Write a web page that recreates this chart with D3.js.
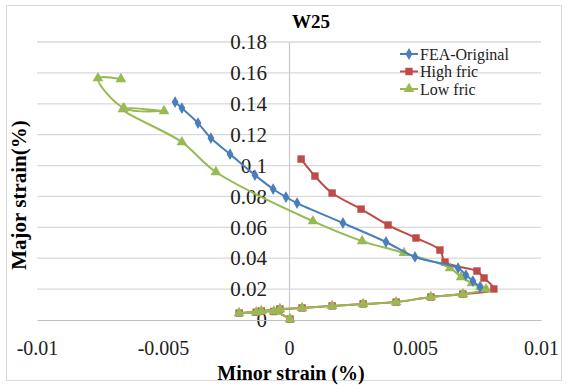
<!DOCTYPE html>
<html>
<head>
<meta charset="utf-8">
<script src="https://d3js.org/d3.v7.min.js"></script>
<style>
  body { margin: 0; background: #fff; }
  text { font-family: "Liberation Serif", "Times New Roman", serif; }
</style>
</head>
<body>
<script>
// W25 strain path
var seriesNames = ["FEA-Original", "High fric", "Low fric"];

var feaX = [0.00758, 0.0073, 0.00702, 0.00671, 0.0050, 0.00385, 0.00214, 0.00032, -0.00012, -0.00063, -0.00135, -0.00234, -0.0031, -0.00361, -0.00425, -0.00452];
var feaY = [0.0214, 0.0252, 0.0291, 0.0336, 0.0408, 0.0505, 0.0628, 0.0757, 0.0796, 0.0848, 0.0938, 0.1074, 0.1178, 0.1275, 0.1372, 0.1411];

var highX = [0.00004, -0.0006, -0.0013, -0.00198, -0.0011, -0.00036, 0.00052, 0.00171, 0.00294, 0.00425, 0.00563, 0.0069, 0.00813, 0.00774, 0.00746, 0.00619, 0.00599, 0.00504, 0.00393, 0.00286, 0.00171, 0.00103, 0.00048];
var highY = [0.0006, 0.0055, 0.005, 0.0045, 0.0058, 0.0071, 0.0078, 0.0091, 0.0104, 0.0116, 0.0149, 0.0168, 0.0201, 0.0272, 0.0317, 0.0375, 0.0453, 0.0531, 0.0615, 0.0718, 0.0822, 0.0932, 0.1042];

var lowX = [0.00004, -0.0006, -0.0013, -0.00198, -0.0011, -0.00036, 0.00052, 0.00171, 0.00294, 0.00425, 0.00563, 0.0069, 0.00782, 0.0076, 0.00726, 0.00683, 0.00639, 0.00456, 0.0029, 0.00095, -0.0029, -0.00425, -0.00659, -0.00496, -0.00655, -0.00758, -0.00667];
var lowY = [0.0006, 0.0055, 0.005, 0.0045, 0.0058, 0.0071, 0.0078, 0.0091, 0.0104, 0.0116, 0.0149, 0.0168, 0.020, 0.0214, 0.0239, 0.0278, 0.0336, 0.0434, 0.0511, 0.064, 0.0958, 0.1152, 0.1366, 0.1353, 0.1372, 0.1566, 0.156];

var xTicks = [-0.01, -0.005, 0, 0.005, 0.01];
var xTickLabels = ["-0.01", "-0.005", "0", "0.005", "0.01"];
var yTicks = [0, 0.02, 0.04, 0.06, 0.08, 0.1, 0.12, 0.14, 0.16, 0.18];
var yTickLabels = ["0", "0.02", "0.04", "0.06", "0.08", "0.1", "0.12", "0.14", "0.16", "0.18"];

var w = 568;
var h = 385;

const margin = {top: 42, right: 27, bottom: 65, left: 37};
const width = w - margin.left - margin.right,
    height = h - margin.top - margin.bottom;

var svg = d3.select("body").append("svg")
    .attr("width", w)
    .attr("height", h);

// outer chart border
svg.append("rect")
    .attr("x", 6.5).attr("y", 5.5)
    .attr("width", 555).attr("height", 375)
    .attr("fill", "#fff")
    .attr("stroke", "#d9d9d9");

const g = svg.append("g")
    .attr("transform", "translate(" + margin.left + "," + margin.top + ")");

var x = d3.scaleLinear().domain([-0.01, 0.01]).range([0, width]);
var y = d3.scaleLinear().domain([0, 0.18]).range([height, 0]);

var color = d3.scaleOrdinal()
    .domain(seriesNames)
    .range(["#4a7ebb", "#be4b48", "#98b954"]);

var shapes = {
    "FEA-Original": d3.symbolDiamond,
    "High fric": d3.symbolSquare,
    "Low fric": d3.symbolTriangle
};
var sizes = {"FEA-Original": 40, "High fric": 55, "Low fric": 50};

//gridlines
g.append("g")
    .selectAll("line")
    .data(yTicks.filter(function(d){ return d > 0; }))
    .enter().append("line")
    .attr("x1", 0).attr("x2", width)
    .attr("y1", d => y(d)).attr("y2", d => y(d))
    .attr("stroke", "#d9d9d9")
    .attr("stroke-width", 1.3);

// y axis sits at x = 0
var yAxis = g.append("g")
    .attr("transform", "translate(" + x(0) + ",0)")
    .call(d3.axisLeft(y).tickValues(yTicks).tickSize(0).tickPadding(22)
        .tickFormat(function(d, i){ return yTickLabels[i]; }));
yAxis.select(".domain").attr("stroke", "#c8c8c8").attr("stroke-width", 1.2);
yAxis.selectAll("text")
    .style("font-family", "Liberation Serif")
    .style("font-size", "21px")
    .attr("fill", "#222");

// x axis at bottom (y = 0)
var xAxis = g.append("g")
    .attr("transform", "translate(0," + height + ")")
    .call(d3.axisBottom(x).tickValues(xTicks).tickSize(0).tickPadding(21)
        .tickFormat(function(d, i){ return xTickLabels[i]; }));
xAxis.select(".domain").attr("stroke", "#bfbfbf").attr("stroke-width", 1.2);
xAxis.selectAll("text")
    .style("font-family", "Liberation Serif")
    .style("font-size", "20px")
    .attr("fill", "#222");

// series
var allSeries = [
    {name: "High fric", xs: highX, ys: highY},
    {name: "Low fric", xs: lowX, ys: lowY},
    {name: "FEA-Original", xs: feaX, ys: feaY}
];

var line = d3.line()
    .x(d => x(d[0]))
    .y(d => y(d[1]))
    .curve(d3.curveCatmullRom.alpha(0.5));

allSeries.forEach(function(s) {
    var pts = s.xs.map(function(v, i){ return [v, s.ys[i]]; });
    var sg = g.append("g");
    sg.append("path")
        .datum(pts)
        .attr("d", line)
        .attr("fill", "none")
        .attr("stroke", color(s.name))
        .attr("stroke-width", 2);
    sg.selectAll("path.pt")
        .data(pts)
        .enter().append("path")
        .attr("class", "pt")
        .attr("transform", d => "translate(" + x(d[0]) + "," + y(d[1]) + ")")
        .attr("d", d3.symbol().type(shapes[s.name]).size(sizes[s.name]))
        .attr("fill", color(s.name));
});

// title
svg.append("text")
    .attr("x", 311).attr("y", 28)
    .attr("text-anchor", "middle")
    .style("font-size", "19px")
    .style("font-weight", "bold")
    .text("W25");

// axis titles
svg.append("text")
    .attr("x", 291).attr("y", 380)
    .attr("text-anchor", "middle")
    .style("font-size", "20px")
    .style("font-weight", "bold")
    .text("Minor strain (%)");

svg.append("text")
    .attr("transform", "translate(26,195) rotate(-90)")
    .attr("text-anchor", "middle")
    .style("font-size", "21px")
    .style("font-weight", "bold")
    .text("Major strain(%)");

//legend
var legend = svg.append("g")
    .attr("transform", "translate(400,54)");

var items = legend.selectAll("g")
    .data(seriesNames)
    .enter().append("g")
    .attr("transform", (d, i) => "translate(0," + (i * 17.5) + ")");

items.append("line")
    .attr("x1", 0).attr("x2", 18)
    .attr("stroke", d => color(d))
    .attr("stroke-width", 2);
items.append("path")
    .attr("transform", "translate(9,0)")
    .attr("d", d => d3.symbol().type(shapes[d]).size(sizes[d])())
    .attr("fill", d => color(d));
items.append("text")
    .attr("x", 20).attr("dy", "0.35em")
    .style("font-size", "16px")
    .attr("fill", "#222")
    .text(d => d);
</script>
</body>
</html>
